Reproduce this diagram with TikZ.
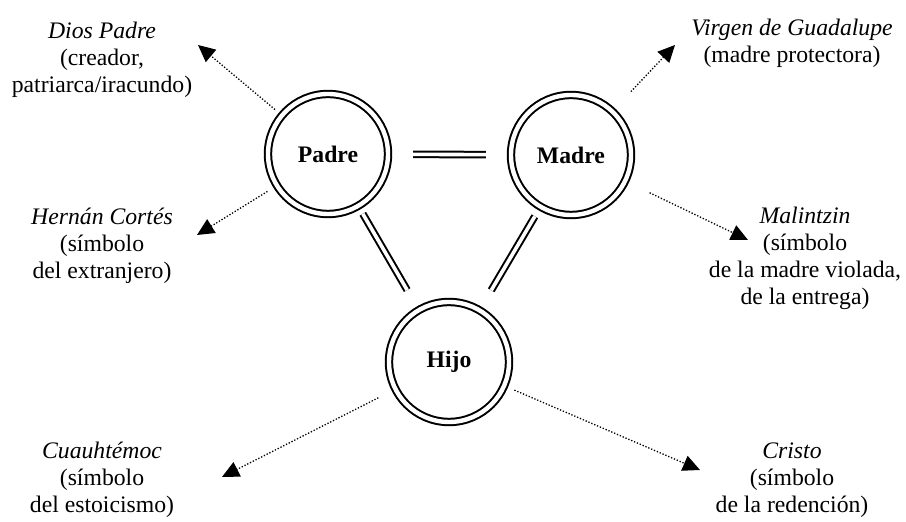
\documentclass[tikz,border=0pt]{standalone}
\usepackage{fontspec}
\setmainfont{Liberation Serif}
\usetikzlibrary{arrows.meta}
\newcommand{\textsize}{\fontsize{11.85}{13.5}\selectfont}
\tikzset{
	persona/.style={circle, draw, double, line width=1pt, double distance=2.2pt, minimum size=60pt, inner sep=0pt, outer sep=1.6pt, font=\textsize\bfseries},
	rasgo/.style={align=center, inner sep=0pt},
	lazo/.style={double, line width=1pt, double distance=1.8pt},
	flecha/.style={line width=0.65pt, dash pattern=on 0.65pt off 0.9pt, -{Triangle[length=8.5pt,width=8pt]}}
}

\begin{document}
\begin{tikzpicture}[x=0.5pt, y=-0.5pt, font=\textsize]
	\useasboundingbox (0,0) rectangle (906,522);
	% triangulo familiar
	\node[persona] (padre) at (328,154) {Padre};
	\node[persona] (madre) at (571,155) {Madre};
	\node[persona] (hijo) at (449,362) {Hijo};
	\draw[lazo, shorten <=11pt, shorten >=11pt] (padre) -- (madre);
	\draw[lazo, shorten <=3pt, shorten >=10pt] (padre) -- (hijo);
	\draw[lazo, shorten <=4pt, shorten >=10pt] (madre) -- (hijo);

	% figuras
	\node[rasgo] (dios) at (102,60) {\textit{Dios Padre}\\(creador,\\patriarca/iracundo)};
	\node[rasgo] (cortes) at (102,246) {\textit{Hernán Cortés}\\(símbolo\\del extranjero)};
	\node[rasgo] (virgen) at (792,43) {\textit{Virgen de Guadalupe}\\(madre protectora)};
	\node[rasgo] (malintzin) at (805,258) {\textit{Malintzin}\\(símbolo\\de la madre violada,\\de la entrega)};
	\node[rasgo] (cuauhtemoc) at (102,480) {\textit{Cuauhtémoc}\\(símbolo\\del estoicismo)};
	\node[rasgo] (cristo) at (792,480) {\textit{Cristo}\\(símbolo\\de la redención)};

	\coordinate (diosTip) at (198,45);
	\coordinate (cortesTip) at (197,235);
	\coordinate (virgenTip) at (675,45);
	\coordinate (malintzinTip) at (748,240);
	\coordinate (cuauhtemocTip) at (222,477);
	\coordinate (cristoTip) at (700,470);

	\draw[flecha, shorten <=3pt] (padre) -- (diosTip);
	\draw[flecha, shorten <=4pt] (padre) -- (cortesTip);
	\draw[flecha, shorten <=12pt] (madre) -- (virgenTip);
	\draw[flecha, shorten <=12pt] (madre) -- (malintzinTip);
	\draw[flecha, shorten <=8pt] (hijo) -- (cuauhtemocTip);
	\draw[flecha, shorten <=4pt] (hijo) -- (cristoTip);
\end{tikzpicture}
\end{document}
